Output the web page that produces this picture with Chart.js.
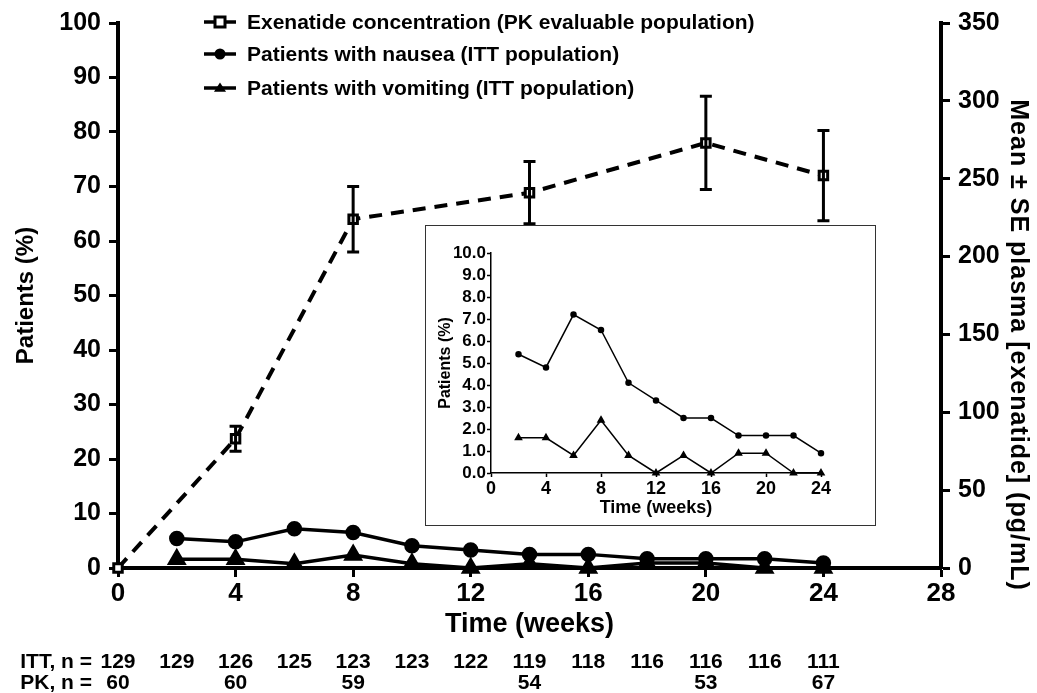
<!DOCTYPE html>
<html>
<head>
<meta charset="utf-8">
<script src="https://cdn.jsdelivr.net/npm/chart.js@4/dist/chart.umd.min.js"></script>
<style>
  html, body { margin: 0; padding: 0; background: #fff; }
  #wrap { position: relative; width: 1037px; height: 693px; }
  #main { position: absolute; left: 0; top: 0; }
  #insetBox { position: absolute; left: 425px; top: 225px; width: 449px; height: 299px;
              border: 1.5px solid #333; background: #fff; }
</style>
</head>
<body>
<div id="wrap">
  <canvas id="main" width="1037" height="693"></canvas>
  <div id="insetBox"><canvas id="inset" width="449" height="299"></canvas></div>
</div>
<script>
// dados
const semanasPK = [0, 4, 8, 14, 20, 24];
const exenatida = [0, 83, 224, 241, 273, 252];      // pg/mL
const exenatidaEP = [0, 8, 21, 20, 30, 29];          // erro padrão

const semanasAE = [2, 4, 6, 8, 10, 12, 14, 16, 18, 20, 22, 24];
const nausea = [5.4, 4.8, 7.2, 6.5, 4.1, 3.3, 2.5, 2.5, 1.7, 1.7, 1.7, 0.9];
const vomito = [1.6, 1.6, 0.8, 2.4, 0.8, 0, 0.8, 0, 0.9, 0.9, 0, 0];

const semanasITT = [0, 2, 4, 6, 8, 10, 12, 14, 16, 18, 20, 22, 24];
const nITT = [129, 129, 126, 125, 123, 123, 122, 119, 118, 116, 116, 116, 111];
const nPK = [60, 60, 59, 54, 53, 67];

const legendas = [
  'Exenatide concentration (PK evaluable population)',
  'Patients with nausea (ITT population)',
  'Patients with vomiting (ITT population)'
];

const fonte = "'Liberation Sans', Arial, sans-serif";

const pares = (xs, ys) => xs.map((x, i) => ({ x: x, y: ys[i] }));

// desenha um marcador simples
const marcador = (ctx, tipo, x, y, r) => {
    ctx.save();
    ctx.lineWidth = 3;
    ctx.strokeStyle = '#000';
    ctx.fillStyle = '#000';
    ctx.beginPath();
    if (tipo === 'rect') {
        ctx.fillStyle = '#fff';
        ctx.rect(x - r, y - r, 2 * r, 2 * r);
        ctx.fill();
        ctx.stroke();
    } else if (tipo === 'circle') {
        ctx.arc(x, y, r, 0, Math.PI * 2);
        ctx.fill();
    } else {
        ctx.moveTo(x, y - r);
        ctx.lineTo(x + r * 1.1, y + r * 0.7);
        ctx.lineTo(x - r * 1.1, y + r * 0.7);
        ctx.closePath();
        ctx.fill();
    }
    ctx.restore();
};

// barras de erro da exenatida
const barrasErro = {
    id: 'barrasErro',
    afterDatasetsDraw(chart) {
        const ctx = chart.ctx;
        const x = chart.scales.x, y = chart.scales.y2;
        ctx.save();
        ctx.strokeStyle = '#000';
        ctx.lineWidth = 3;
        semanasPK.forEach((s, i) => {
            if (!exenatidaEP[i]) return;
            const px = x.getPixelForValue(s);
            const top = y.getPixelForValue(exenatida[i] + exenatidaEP[i]);
            const bot = y.getPixelForValue(exenatida[i] - exenatidaEP[i]);
            ctx.beginPath();
            ctx.moveTo(px, top); ctx.lineTo(px, bot);
            ctx.moveTo(px - 6, top); ctx.lineTo(px + 6, top);
            ctx.moveTo(px - 6, bot); ctx.lineTo(px + 6, bot);
            ctx.stroke();
        });
        ctx.restore();
    }
};

// textos extras: legenda, títulos e números de pacientes
const textosExtras = {
    id: 'textosExtras',
    afterDraw(chart) {
        const ctx = chart.ctx;
        const x = chart.scales.x;
        ctx.save();
        ctx.fillStyle = '#000';

        // legenda
        const tipos = ['rect', 'circle', 'triangle'];
        const ys = [22, 54, 88];
        ctx.font = 'bold 21px ' + fonte;
        ctx.textBaseline = 'middle';
        ctx.textAlign = 'left';
        tipos.forEach((t, i) => {
            ctx.beginPath();
            ctx.lineWidth = 3.5;
            ctx.moveTo(204, ys[i]); ctx.lineTo(236, ys[i]);
            ctx.stroke();
            marcador(ctx, t, 220, ys[i], t === 'rect' ? 5 : 5.5);
            ctx.fillText(legendas[i], 247, ys[i] + 1);
        });

        // título do eixo x
        ctx.font = 'bold 27px ' + fonte;
        ctx.textAlign = 'center';
        ctx.fillText('Time (weeks)', (chart.chartArea.left + chart.chartArea.right) / 2, 625);

        // título do eixo direito
        ctx.save();
        ctx.translate(1018, 345);
        ctx.rotate(Math.PI / 2);
        ctx.font = 'bold 25px ' + fonte;
        ctx.letterSpacing = '1px';
        ctx.fillText('Mean \u00b1 SE plasma [exenatide] (pg/mL)', 0, 0);
        ctx.restore();

        // n por semana
        ctx.font = 'bold 21px ' + fonte;
        ctx.textAlign = 'right';
        ctx.fillText('ITT, n =', 92, 662);
        ctx.fillText('PK, n =', 92, 683);
        ctx.textAlign = 'center';
        semanasITT.forEach((s, i) => ctx.fillText(String(nITT[i]), x.getPixelForValue(s), 662));
        semanasPK.forEach((s, i) => ctx.fillText(String(nPK[i]), x.getPixelForValue(s), 683));
        ctx.restore();
    }
};

const eixoBase = {
    border: { display: true, color: '#000', width: 4 },
    grid: { drawOnChartArea: false, drawTicks: true, tickLength: 9, tickWidth: 3, tickColor: '#000' },
    ticks: { color: '#000', font: { family: fonte, weight: 'bold', size: 25 }, padding: 8 }
};

new Chart(document.getElementById('main').getContext('2d'), {
    type: 'line',
    data: {
        datasets: [{
            label: legendas[0],
            data: pares(semanasPK, exenatida),
            yAxisID: 'y2',
            borderColor: '#000',
            borderWidth: 4,
            borderDash: [13, 9],
            pointStyle: 'rect',
            pointRadius: 6,
            pointBorderWidth: 3,
            pointBackgroundColor: '#fff',
            pointBorderColor: '#000',
            clip: false
        }, {
            label: legendas[1],
            data: pares(semanasAE, nausea),
            yAxisID: 'y',
            borderColor: '#000',
            borderWidth: 3.5,
            pointStyle: 'circle',
            pointRadius: 6,
            pointBackgroundColor: '#000',
            pointBorderColor: '#000',
            clip: false
        }, {
            label: legendas[2],
            data: pares(semanasAE, vomito),
            yAxisID: 'y',
            borderColor: '#000',
            borderWidth: 3.5,
            pointStyle: 'triangle',
            pointRadius: 8,
            pointBackgroundColor: '#000',
            pointBorderColor: '#000',
            clip: false
        }]
    },
    options: {
        responsive: false,
        animation: false,
        layout: { padding: { top: 22, left: 0, right: 0, bottom: 0 } },
        plugins: { legend: { display: false }, tooltip: { enabled: false } },
        scales: {
            x: Object.assign({}, eixoBase, {
                type: 'linear', min: 0, max: 28,
                ticks: Object.assign({}, eixoBase.ticks, { stepSize: 4, padding: 1, font: { family: fonte, weight: 'bold', size: 26 } }),
                afterFit(s) { s.height = 125; }
            }),
            y: Object.assign({}, eixoBase, {
                position: 'left', min: 0, max: 100,
                ticks: Object.assign({}, eixoBase.ticks, { stepSize: 10 }),
                title: { display: true, text: 'Patients (%)', color: '#000',
                         font: { family: fonte, weight: 'bold', size: 24 }, padding: { top: 12, bottom: 0 } },
                afterFit(s) { s.width = 118; }
            }),
            y2: Object.assign({}, eixoBase, {
                position: 'right', min: 0, max: 350,
                ticks: Object.assign({}, eixoBase.ticks, { stepSize: 50 }),
                afterFit(s) { s.width = 96; }
            })
        }
    },
    plugins: [barrasErro, textosExtras]
});

// gráfico interno (detalhe 0-10 %)
const eixoInset = {
    border: { display: true, color: '#000', width: 1.5 },
    grid: { drawOnChartArea: false, drawTicks: true, tickLength: 4, tickWidth: 1.5, tickColor: '#000' },
    ticks: { color: '#000', font: { family: fonte, weight: 'bold', size: 17 }, padding: 1, autoSkip: false }
};

new Chart(document.getElementById('inset').getContext('2d'), {
    type: 'line',
    data: {
        datasets: [{
            data: pares(semanasAE, nausea),
            borderColor: '#000', borderWidth: 1.5,
            pointStyle: 'circle', pointRadius: 2.5,
            pointBackgroundColor: '#000', pointBorderColor: '#000', clip: false
        }, {
            data: pares(semanasAE, vomito),
            borderColor: '#000', borderWidth: 1.5,
            pointStyle: 'triangle', pointRadius: 3.5,
            pointBackgroundColor: '#000', pointBorderColor: '#000', clip: false
        }]
    },
    options: {
        responsive: false,
        animation: false,
        layout: { padding: { top: 27, left: 0, right: 54, bottom: 0 } },
        plugins: { legend: { display: false }, tooltip: { enabled: false } },
        scales: {
            x: Object.assign({}, eixoInset, {
                type: 'linear', min: 0, max: 24,
                ticks: Object.assign({}, eixoInset.ticks, { stepSize: 4, font: { family: fonte, weight: 'bold', size: 18 } }),
                title: { display: true, text: 'Time (weeks)', color: '#000',
                         font: { family: fonte, weight: 'bold', size: 18 }, padding: { top: 0, bottom: 6 } },
                afterFit(s) { s.height = 52; }
            }),
            y: Object.assign({}, eixoInset, {
                min: 0, max: 10,
                ticks: Object.assign({}, eixoInset.ticks, { stepSize: 1, callback: v => v.toFixed(1) }),
                title: { display: true, text: 'Patients (%)', color: '#000',
                         font: { family: fonte, weight: 'bold', size: 16 }, padding: { top: 10, bottom: 0 } },
                afterFit(s) { s.width = 65; }
            })
        }
    }
});
</script>
</body>
</html>
